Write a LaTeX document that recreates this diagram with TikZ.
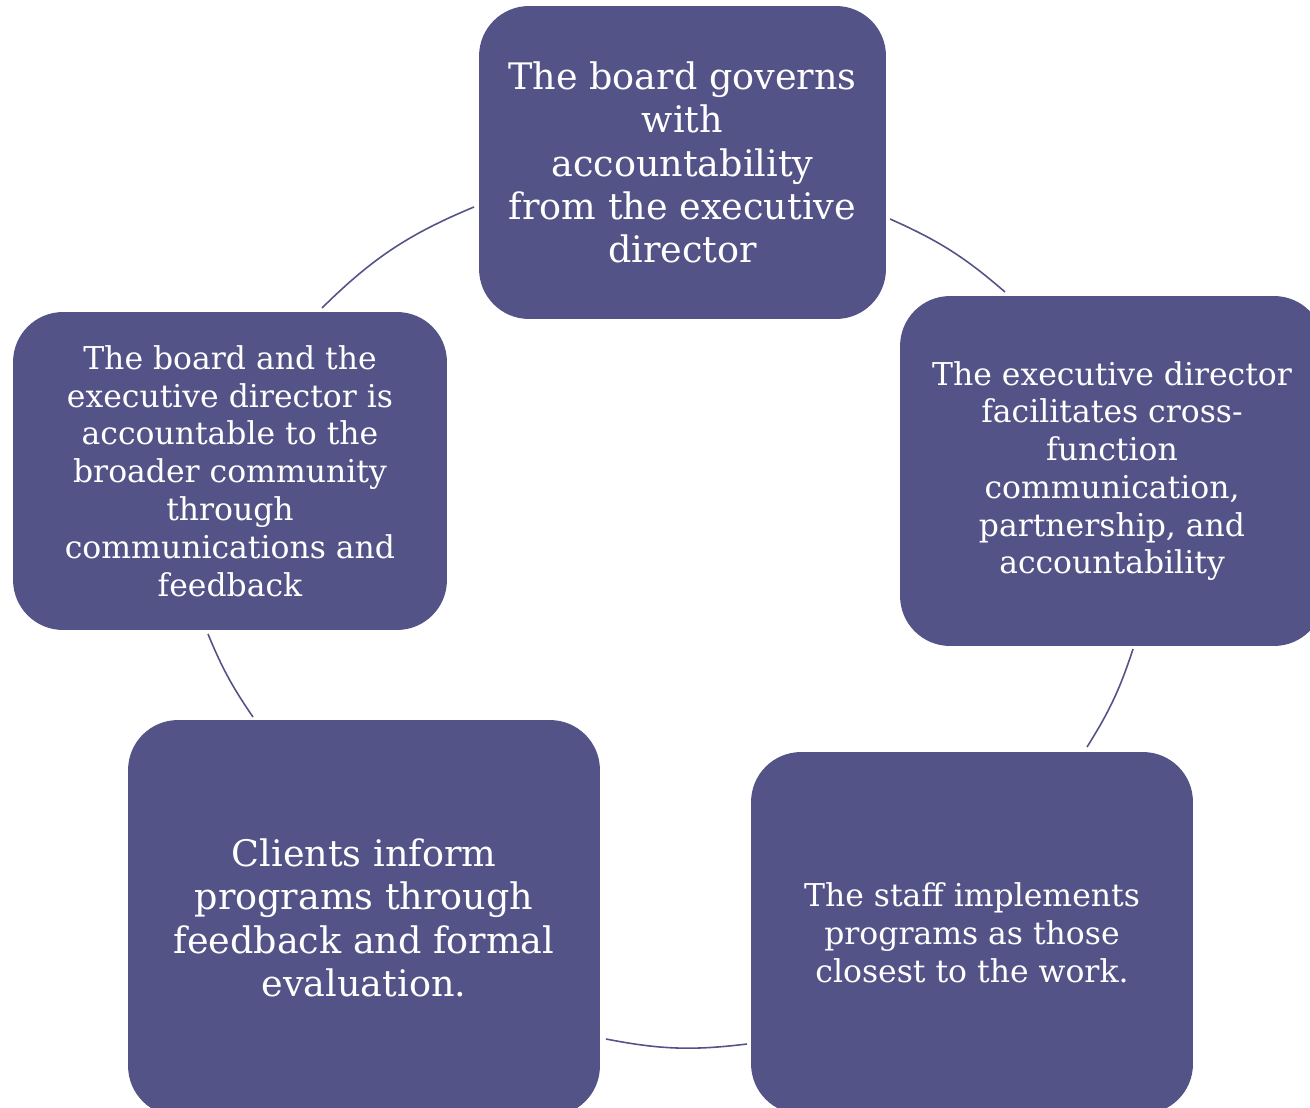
\documentclass[tikz,border=0pt]{standalone}
\usepackage{fontspec}
\setmainfont{DejaVu Serif}
\definecolor{cyclefill}{RGB}{84,83,136}

\tikzset{
  box/.style={rectangle, rounded corners=1cm, fill=cyclefill, text=white,
    align=center, inner sep=0pt},
  bigtext/.style={font=\fontsize{20.8}{24.7}\selectfont},
  smalltext/.style={font=\fontsize{17.9}{21.5}\selectfont},
  link/.style={draw=cyclefill, line width=0.9pt}
}

\begin{document}
\begin{tikzpicture}[x=0.02cm,y=0.02cm]

\useasboundingbox (0,0) rectangle (1310,1107);
\clip (0,0) rectangle (1310,1107);

% the five stages
\node [box, bigtext, minimum width=8.14cm, minimum height=6.26cm] (board) at (682.5,944.5)
  {The board governs\\with\\accountability\\from the executive\\director};
\node [box, smalltext, minimum width=8.48cm, minimum height=7.00cm] (exec) at (1112,636)
  {The executive director\\facilitates cross-\\function\\communication,\\partnership, and\\accountability};
\node [box, smalltext, minimum width=8.84cm, minimum height=7.24cm] (staff) at (972,174)
  {The staff implements\\programs as those\\closest to the work.};
\node [box, bigtext, minimum width=9.44cm, minimum height=7.92cm] (clients) at (364,189)
  {Clients inform\\programs through\\feedback and formal\\evaluation.};
\node [box, smalltext, minimum width=8.68cm, minimum height=6.36cm] (community) at (230,636)
  {The board and the\\executive director is\\accountable to the\\broader community\\through\\communications and\\feedback};

% ends of the cycle arcs
\coordinate (board-out) at (890,888);
\coordinate (exec-in) at (1005,815);
\coordinate (exec-out) at (1133,458);
\coordinate (staff-in) at (1087,360);
\coordinate (staff-out) at (747,63);
\coordinate (clients-in) at (606,68);
\coordinate (clients-out) at (253,390);
\coordinate (community-in) at (208,473);
\coordinate (community-out) at (322,799);
\coordinate (board-in) at (474,900);

\draw [link] (board-out) to [bend left=8.5] (exec-in);
\draw [link] (exec-out) to [bend left=7] (staff-in);
\draw [link] (staff-out) to [bend left=9] (clients-in);
\draw [link] (clients-out) to [bend left=6] (community-in);
\draw [link] (community-out) to [bend left=11] (board-in);

\end{tikzpicture}
\end{document}
